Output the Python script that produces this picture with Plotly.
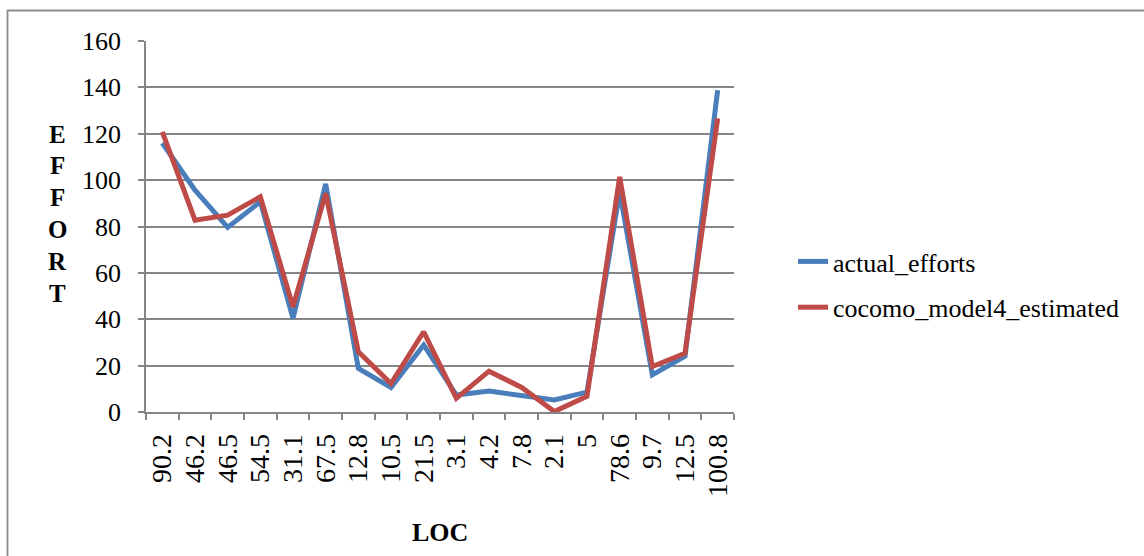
import plotly.graph_objects as go

loc_labels = ["90.2", "46.2", "46.5", "54.5", "31.1", "67.5", "12.8", "10.5", "21.5",
              "3.1", "4.2", "7.8", "2.1", "5", "78.6", "9.7", "12.5", "100.8"]
actual_efforts = [116, 95.7, 79.6, 90.7, 40.4, 98.4, 18.8, 10.6, 28.9,
                  7.3, 9, 7.1, 5.2, 8.6, 95, 16, 24.1, 138.8]
cocomo_model4_estimated = [120.8, 82.7, 84.9, 92.8, 45.4, 94.3, 26, 12.3, 34.6,
                           5.9, 17.6, 10.6, 0.2, 6.8, 101.4, 19.6, 25.3, 126.6]
y_ticks = [0, 20, 40, 60, 80, 100, 120, 140, 160]

W, H = 1144, 556
L, R, T, B = 146, 410, 41, 144
pw, ph = W - L - R, H - T - B

def px_x(x):
    return (x - L) / pw

def px_y(y):
    return (H - B - y) / ph

font_serif = "Liberation Serif, Times New Roman, serif"
grid_col = "#868686"

fig = go.Figure()
fig.add_trace(go.Scatter(x=loc_labels, y=actual_efforts, mode="lines", name="actual_efforts",
                         line=dict(color="#4A7EBB", width=5), legendgroup="a"))
fig.add_trace(go.Scatter(x=loc_labels, y=cocomo_model4_estimated, mode="lines",
                         name="cocomo_model4_estimated",
                         line=dict(color="#BE4B48", width=5), legendgroup="b"))

fig.update_layout(
    width=W, height=H,
    margin=dict(l=L, r=R, t=T, b=B, autoexpand=False),
    paper_bgcolor="white", plot_bgcolor="white",
    font=dict(family=font_serif, color="black", size=26),
    showlegend=True,
    legend=dict(x=px_x(793), y=px_y(238), xanchor="left", yanchor="top",
                font=dict(size=26, family=font_serif), tracegroupgap=9,
                bgcolor="rgba(0,0,0,0)"),
    xaxis=dict(type="category", categoryorder="array", categoryarray=loc_labels,
               range=[-0.5, len(loc_labels) - 0.5], showgrid=False,
               tickmode="linear", tick0=0, dtick=1,
               showline=True, linecolor=grid_col, linewidth=1.5,
               ticks="outside", tickson="boundaries", ticklen=6, tickcolor=grid_col,
               tickwidth=1.5, tickangle=-90, tickfont=dict(size=28),
               ticklabelstandoff=9, fixedrange=True),
    yaxis=dict(range=[0, 160], tickvals=y_ticks, ticktext=[str(v) for v in y_ticks],
               showgrid=True, gridcolor=grid_col, gridwidth=1.5,
               showline=True, linecolor=grid_col, linewidth=1.5,
               ticks="outside", ticklen=6, tickcolor=grid_col, tickwidth=1.5,
               zeroline=False, tickfont=dict(size=26), ticklabelstandoff=12,
               fixedrange=True),
)

# Axis titles
fig.add_annotation(text="<b>LOC</b>", xref="paper", yref="paper", x=0.5, y=px_y(532),
                   showarrow=False, font=dict(size=26, family=font_serif),
                   xanchor="center", yanchor="middle")
for i, ch in enumerate("EFFORT"):
    fig.add_annotation(text="<b>%s</b>" % ch, xref="paper", yref="paper",
                       x=px_x(57), y=px_y(134 + i * 31.8), showarrow=False,
                       font=dict(size=25, family=font_serif),
                       xanchor="center", yanchor="middle")

# Chart border
fig.add_shape(type="rect", xref="paper", yref="paper",
              x0=px_x(7.5), x1=px_x(1160), y0=px_y(580), y1=px_y(10.5),
              line=dict(color="#8c8c8c", width=1.8), fillcolor="rgba(0,0,0,0)", layer="below")

fig.write_html("out.html", config={"displayModeBar": False},
               post_script="document.body.style.margin='0px';")
